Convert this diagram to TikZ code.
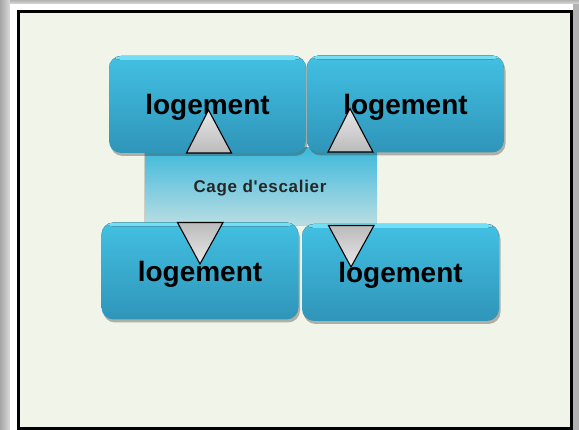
\documentclass[tikz,border=0pt]{standalone}
\usepackage{fontspec}
\setmainfont{Liberation Sans}
\newfontfamily\cagefont[LetterSpace=4]{Liberation Sans}
\usetikzlibrary{shadows}
\definecolor{bgfill}{HTML}{F1F4E8}
\definecolor{boxtop}{HTML}{42C0E2}
\definecolor{boxbot}{HTML}{2F95B9}
\definecolor{boxrim}{HTML}{72DFF6}
\definecolor{cagetop}{HTML}{3DB9DB}
\definecolor{cagebot}{HTML}{BADDE3}
\definecolor{tridark}{HTML}{BBBBBB}
\definecolor{trilight}{HTML}{E8E8E8}
\newcommand{\logtxt}{\raisebox{-3pt}[\height][\depth]{logement}}
\tikzset{
  logbox/.style={rounded corners=12pt, minimum width=197pt, minimum height=97pt,
    inner sep=0pt, top color=boxtop, bottom color=boxbot,
    font=\fontsize{28}{30}\selectfont\bfseries, text=black,
    drop shadow={shadow xshift=1.5pt, shadow yshift=-3pt, opacity=0.35, fill=black!80},
    path picture={\fill[top color=boxrim, bottom color=boxtop]
      (path picture bounding box.north west) rectangle
      ([yshift=-4pt]path picture bounding box.north east);}},
  cagebox/.style={minimum width=232pt, minimum height=77pt, inner sep=0pt,
    top color=cagetop, bottom color=cagebot,
    drop shadow={shadow xshift=-1pt, shadow yshift=-1pt, opacity=0.15, fill=black}},
  tri/.style={draw=black, line width=1.1pt, line join=miter},
  triup/.style={tri, top color=trilight, bottom color=tridark},
  tridown/.style={tri, top color=tridark, bottom color=trilight}
}
\begin{document}
\begin{tikzpicture}[x=1pt,y=1pt]
\useasboundingbox (0,0) rectangle (579,-430);
% outer frame
\fill[black!30] (0,0) rectangle (579,-430);
\shade[left color=black!35, right color=black!14] (0,0) rectangle (10,-430);
\shade[top color=black!30, bottom color=black!14] (10,0) rectangle (579,-4);
\fill[white] (10,-4) rectangle (573,-430);
\draw[line width=3pt, fill=bgfill] (18.5,-12) rectangle (571.5,-428.5);
% stair cage
\node[cagebox] (cage) at (261,-186.5) {};
\node[font=\cagefont\fontsize{17}{19}\selectfont\bfseries, text=black!85] (cagelbl) at (260,-188) {Cage d'escalier};
% dwellings
\node[logbox] (tl) at (207.5,-104.5) {\logtxt};
\node[logbox] (tr) at (405.5,-104) {\logtxt};
\node[logbox] (bl) at (200,-271) {\logtxt};
\node[logbox] (br) at (400.5,-272.5) {\logtxt};
% triangles
\coordinate (t1a) at (208.5,-110); \coordinate (t1l) at (186.5,-153); \coordinate (t1r) at (231.5,-153);
\coordinate (t2a) at (350,-108.5); \coordinate (t2l) at (328,-152); \coordinate (t2r) at (373,-152);
\coordinate (t3a) at (200,-264); \coordinate (t3l) at (177.5,-222.5); \coordinate (t3r) at (223,-222.5);
\coordinate (t4a) at (351,-267); \coordinate (t4l) at (328.5,-225.5); \coordinate (t4r) at (374,-225.5);
\path[triup] (t1a) -- (t1r) -- (t1l) -- cycle;
\path[triup] (t2a) -- (t2r) -- (t2l) -- cycle;
\path[tridown] (t3l) -- (t3r) -- (t3a) -- cycle;
\path[tridown] (t4l) -- (t4r) -- (t4a) -- cycle;
\end{tikzpicture}
\end{document}
